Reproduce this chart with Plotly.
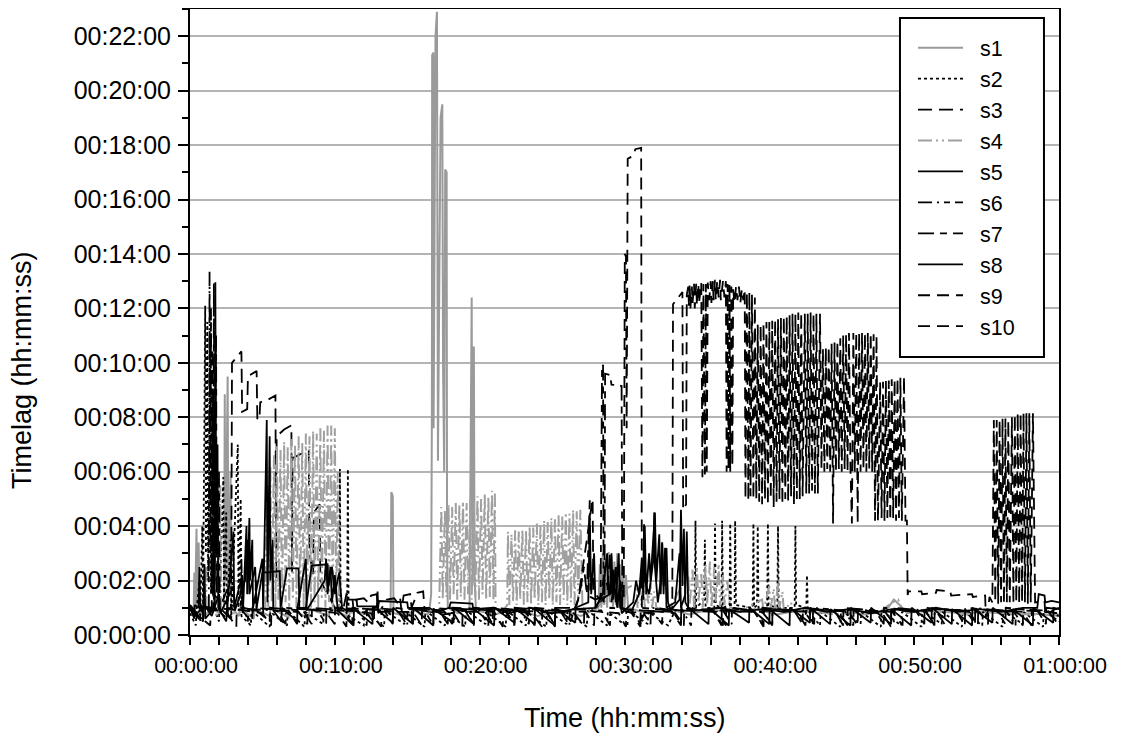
import plotly.graph_objects as go

# ---- tick labels ----
x_tick_vals = [0, 10, 20, 30, 40, 50, 60]
x_tick_labels = ["00:00:00", "00:10:00", "00:20:00", "00:30:00", "00:40:00", "00:50:00", "01:00:00"]
y_tick_vals = [0, 2, 4, 6, 8, 10, 12, 14, 16, 18, 20, 22]
y_tick_labels = ["00:00:00", "00:02:00", "00:04:00", "00:06:00", "00:08:00", "00:10:00",
                 "00:12:00", "00:14:00", "00:16:00", "00:18:00", "00:20:00", "00:22:00"]

series_names = ["s1", "s2", "s3", "s4", "s5", "s6", "s7", "s8", "s9", "s10"]

# ---- series: (time in minutes, timelag in minutes) ----
s1 = [(0.0,1.0),(0.25,0.8),(0.3,2.3),(0.35,0.9),(0.45,3.9),(0.5,1.0),(0.6,3.4),(0.65,0.8),(1.0,0.7),(1.5,1.0),
      (2.0,0.8),(2.35,1.0),(2.4,8.85),(2.45,2.0),(2.6,9.5),(2.65,1.5),(2.8,6.0),(2.85,1.0),(3.4,0.7),(3.45,1.0),
      (4.4,0.6),(4.45,0.95),(5.5,0.7),(5.55,1.0),(6.8,0.65),(6.85,1.0),(8.2,0.6),(8.25,0.95),(9.6,0.7),(9.65,1.0),
      (11.0,0.65),(11.05,0.95),(12.5,0.7),(12.55,0.95),(13.85,0.8),(13.9,5.25),(14.0,5.1),(14.05,0.8),(15.0,0.7),
      (15.5,0.9),(16.4,0.75),(16.55,1.0),(16.65,1.5),(16.7,8.0),(16.72,21.3),(16.8,21.4),(16.82,7.6),(16.9,14.0),
      (16.95,22.0),(17.05,22.9),(17.08,13.0),(17.12,6.4),(17.3,19.0),(17.42,19.5),(17.47,10.0),(17.55,6.0),
      (17.62,17.1),(17.72,17.0),(17.75,3.0),(17.8,1.0),(18.5,0.8),(19.3,1.0),
      (19.45,12.4),(19.5,1.8),(19.6,10.6),(19.65,2.0),(19.75,0.9),(21.0,0.75),(22.5,0.95),(24.0,0.7),(25.5,0.9),
      (27.0,0.7),(28.2,1.0),(28.3,2.6),(28.4,1.0),(28.5,3.0),(28.6,1.1),(28.7,2.8),(28.8,1.0),(28.9,3.05),(29.0,1.2),
      (29.1,2.9),(29.2,1.0),(29.3,2.7),(29.4,1.1),(29.5,3.0),(29.6,1.0),(29.7,2.6),(29.8,1.2),(29.9,2.4),(30.0,1.0),
      (30.1,2.2),(30.25,1.0),(31.5,0.8),(33.0,0.95),(34.5,0.75),(36.0,0.95),(37.5,0.8),(39.0,0.95),(40.5,0.75),
      (42.0,0.9),(43.5,0.8),(45.0,0.9),(46.5,0.75),(48.0,0.85),(48.6,1.3),(49.0,1.1),(49.5,0.8),(50.5,0.9),
      (52.0,0.85),(53.5,0.8),(55.0,0.85),(56.5,0.75),(58.0,0.8),(60.0,0.7)]

s2 = [(0.0,0.8),(0.4,0.35),(0.45,0.9),(0.65,2.0),(0.7,0.6),(0.85,4.0),(0.9,1.0),(1.05,12.1),(1.1,3.0),(1.2,11.5),
      (1.25,2.0),(1.4,10.8),(1.45,1.5),(1.6,9.0),(1.65,1.0),(2.0,0.5),(2.3,5.8),(2.35,1.2),(2.5,4.5),(2.55,0.8),
      (2.8,3.5),(2.85,0.6),(3.3,7.0),(3.35,1.0),(3.5,5.0),(3.55,0.7),(4.2,0.35),(4.25,0.9),(5.5,0.3),(5.55,0.85),
      (6.7,0.35),(6.75,0.9),(7.9,0.3),(7.95,0.85),(9.2,0.4),(9.25,0.9),(10.3,0.9),(10.35,6.1),(10.4,1.0),(10.85,0.8),
      (10.9,6.1),(10.95,0.7),(12.0,0.35),(12.05,0.85),(13.4,0.3),(13.45,0.9),(14.8,0.4),(14.85,0.85),(16.2,0.3),
      (16.25,0.9),(17.6,0.35),(17.65,0.85),(19.0,0.3),(19.05,0.9),(20.4,0.4),(20.45,0.85),(21.8,0.3),(21.85,0.9),
      (23.2,0.35),(23.25,0.85),(24.6,0.3),(24.65,0.9),(26.0,0.4),(26.05,0.85),(27.4,0.3),(27.45,0.9),(28.8,0.35),
      (28.85,0.85),(30.2,0.3),(30.25,0.9),(31.6,0.4),(31.65,0.85),(33.0,0.35),(33.5,0.9),(34.85,1.0),(34.9,4.2),
      (34.95,1.0),(35.5,1.3),(35.55,3.5),(35.6,1.0),(36.2,1.0),(36.25,4.1),(36.3,1.1),(36.7,1.0),(36.74,4.2),
      (36.8,1.0),(37.25,1.1),(37.3,4.1),(37.35,1.0),(37.6,1.0),(37.64,4.2),(37.7,1.1),(38.85,1.0),(38.9,4.1),
      (38.95,1.0),(39.15,1.1),(39.2,4.0),(39.25,1.0),(39.85,1.0),(39.9,4.1),(39.95,1.1),(40.55,1.0),(40.6,4.0),
      (40.65,1.0),(41.75,1.0),(41.8,4.0),(41.85,1.1),(42.55,1.0),(42.6,2.2),(42.65,0.9),(43.5,0.35),(43.55,0.85),
      (44.9,0.3),(44.95,0.9),(46.3,0.4),(46.35,0.85),(47.7,0.3),(47.75,0.9),(49.1,0.35),(49.15,0.85),(50.5,0.3),
      (50.55,0.9),(51.9,0.4),(51.95,0.85),(53.3,0.3),(53.35,0.9),(54.7,0.35),(54.75,0.85),(56.1,0.3),(56.15,0.9),
      (57.5,0.4),(57.55,0.85),(58.9,0.3),(58.95,0.9),(60.0,0.5)]

s3 = [(0.0,1.05),(0.7,0.45),(0.72,1.0),(1.5,0.9),(1.55,9.0),(1.6,1.5),(2.2,1.2),(2.85,2.0),(2.9,10.0),(3.2,10.2),
      (3.55,10.42),(3.6,8.2),(3.95,8.3),(4.0,9.5),(4.6,9.7),(4.65,7.9),(4.8,8.0),(4.85,8.55),(5.4,8.65),(5.9,8.8),
      (5.95,2.1),(5.98,7.3),(6.5,7.55),(7.0,7.7),(7.05,2.3),(7.08,6.5),(7.7,6.65),(8.2,6.8),(8.25,3.0),(8.5,2.2),
      (8.55,4.5),(8.95,4.8),(9.0,2.0),(9.5,1.5),(10.0,1.0),(10.6,1.0),(10.8,1.5),(11.2,1.4),(11.3,0.9),(11.5,1.3),
      (12.0,1.35),(12.3,1.2),(12.5,1.45),(12.9,1.5),(13.0,0.8),(13.6,1.3),(14.1,1.35),(14.3,1.2),(14.5,1.4),
      (14.6,0.9),(14.75,1.45),(15.2,1.5),(15.3,1.0),(15.7,1.55),(16.1,1.6),(16.2,0.9),(17.5,0.75),(19.0,0.9),
      (19.6,0.35),(19.62,0.95),(21.8,0.85),(22.4,0.35),(22.42,0.9),(24.6,0.85),(25.2,0.3),(25.22,0.9),(27.3,0.85),
      (27.9,0.35),(27.92,0.9),(28.8,1.5),(29.0,3.0),(29.1,1.2),(29.4,2.5),(29.5,1.0),(30.5,0.8),(31.1,0.3),
      (31.12,0.9),(33.3,0.85),(33.9,0.35),(33.92,0.9),(36.2,0.85),(36.8,0.35),(36.82,0.9),(39.0,0.85),(39.6,0.3),
      (39.62,0.9),(41.9,0.85),(42.5,0.35),(42.52,0.9),(44.8,0.85),(45.4,0.35),(45.42,0.9),(47.8,0.8),(48.4,0.3),
      (48.42,0.9),(50.8,0.85),(51.4,0.4),(51.42,0.95),(53.8,0.85),(54.4,0.35),(54.42,0.9),(56.9,0.85),(57.5,0.35),
      (57.52,0.9),(59.5,0.85),(60.0,0.7)]

s4 = [(0.0,0.9),(1.0,0.8),(1.1,2.5),(1.15,0.9),(2.0,0.7),(2.1,5.5),(2.15,1.0),(3.0,0.8),(4.0,0.9),(5.2,0.8),
      (5.3,5.5),(5.4,1.0),(5.55,6.2),(5.65,1.2),(5.8,6.6),(5.9,1.0),(6.0,7.0),(6.1,1.3),(6.25,6.8),(6.35,1.0),
      (6.5,7.1),(6.6,1.2),(6.75,6.9),(6.85,1.0),(7.0,7.2),(7.1,1.3),(7.25,7.0),(7.35,1.0),(7.5,7.3),(7.6,1.2),
      (7.75,7.1),(7.85,1.0),(8.0,7.4),(8.1,1.3),(8.25,7.3),(8.35,1.0),(8.5,7.5),(8.6,1.2),(8.75,7.4),(8.85,1.0),
      (9.0,7.6),(9.1,1.3),(9.25,7.5),(9.35,1.0),(9.5,7.7),(9.6,1.2),(9.75,7.7),(9.85,1.0),(10.0,7.6),(10.1,1.2),
      (10.2,6.0),(10.3,0.9),(11.5,0.8),(13.0,0.95),(14.5,0.75),(16.0,0.9),(17.2,0.9),
      (17.35,4.7),(17.45,1.3),(17.6,4.6),(17.7,1.4),(17.85,4.8),(17.95,1.3),(18.1,4.7),(18.2,1.5),(18.35,4.85),
      (18.45,1.3),(18.6,4.8),(18.7,1.4),(18.85,4.9),(18.95,1.3),(19.1,4.85),(19.2,1.5),(19.35,5.0),(19.45,1.3),
      (19.6,4.9),(19.7,1.4),(19.85,5.1),(19.95,1.3),(20.1,5.0),(20.2,1.5),(20.35,5.2),(20.45,1.3),(20.6,5.1),
      (20.7,1.4),(20.85,5.3),(20.95,1.3),(21.05,5.2),(21.1,1.0),(21.5,0.8),(21.9,1.1),
      (21.95,3.8),(22.05,1.1),(22.2,3.7),(22.3,1.2),(22.45,3.85),(22.55,1.1),(22.7,3.8),(22.8,1.3),(22.95,3.9),
      (23.05,1.1),(23.2,3.85),(23.3,1.2),(23.45,4.0),(23.55,1.1),(23.7,3.95),(23.8,1.3),(23.95,4.1),(24.05,1.1),
      (24.2,4.05),(24.3,1.2),(24.45,4.2),(24.55,1.1),(24.7,4.15),(24.8,1.3),(24.95,4.3),(25.05,1.1),(25.2,4.25),
      (25.3,1.2),(25.45,4.4),(25.55,1.1),(25.7,4.35),(25.8,1.3),(25.95,4.5),(26.05,1.1),(26.2,4.45),(26.3,1.2),
      (26.45,4.6),(26.55,1.1),(26.7,4.55),(26.8,1.2),(26.95,4.6),(27.1,1.0),(27.5,0.9),
      (30.8,1.9),(30.9,1.0),(31.05,1.8),(31.15,1.1),(31.3,1.9),(31.4,1.0),(31.55,1.7),(31.65,1.1),(31.8,1.9),
      (31.9,1.0),(32.05,1.6),(32.2,1.0),(33.0,0.9),
      (34.4,2.2),(34.5,1.1),(34.7,2.4),(34.8,1.0),(35.0,2.5),(35.1,1.2),(35.3,2.3),(35.4,1.0),(35.6,2.6),(35.7,1.1),
      (35.9,2.7),(36.0,1.0),(36.2,2.5),(36.3,1.2),(36.5,2.6),(36.6,1.0),(36.8,2.2),(36.9,1.1),(37.1,2.0),(37.3,1.0),
      (38.0,0.9),(39.5,1.3),(39.6,0.9),(40.0,1.8),(40.1,1.0),(40.3,1.7),(40.4,0.9),(40.6,1.9),(40.7,1.0),(40.9,1.6),
      (41.0,0.9),(41.5,1.2),(41.6,0.85),(43.0,0.9),(44.5,0.75),(46.0,0.9),(47.5,0.8),(48.5,1.2),(48.9,1.3),
      (49.2,0.9),(50.5,0.85),(52.0,0.9),(53.5,0.75),(55.0,0.85),(56.5,0.8),(58.0,0.75),(60.0,0.75)]

s5 = [(0.0,1.0),(0.3,0.6),(0.32,1.1),(0.6,1.0),(0.65,2.5),(0.7,1.2),(0.9,0.8),(1.0,2.6),(1.05,0.6),(1.7,1.0),
      (1.75,12.96),(1.8,3.0),(1.9,7.0),(1.95,1.0),(2.5,0.5),(3.0,3.8),(3.05,1.0),(3.6,2.2),(3.65,0.8),(3.9,4.0),
      (3.95,1.5),(4.1,4.3),(4.15,2.0),(4.3,3.5),(4.35,1.0),(5.0,2.8),(5.05,0.8),(5.3,7.9),(5.35,1.2),(5.5,7.3),
      (5.55,2.0),(5.7,3.5),(5.75,0.9),(6.3,0.5),(6.35,1.0),(7.4,0.5),(7.42,1.0),(8.0,2.8),(8.05,0.9),(9.3,2.0),
      (9.4,2.8),(9.5,1.5),(9.7,2.5),(9.8,1.2),(10.0,2.2),(10.2,0.9),(11.3,0.35),(11.32,0.95),(12.6,0.4),(12.62,1.0),
      (12.9,1.0),(12.95,1.6),(13.0,0.9),(14.0,0.45),(14.02,1.0),(15.4,0.4),(15.42,1.0),(16.8,0.35),(16.82,0.95),
      (18.2,0.45),(18.22,1.0),(19.6,0.4),(19.62,0.95),(21.0,0.35),(21.02,1.0),(22.4,0.45),(22.42,1.0),(23.8,0.4),
      (23.82,0.95),(25.2,0.35),(25.22,1.0),(26.6,0.45),(26.62,1.0),(27.5,1.2),(27.6,4.3),(27.7,1.5),(27.9,3.0),
      (28.0,1.0),(28.3,1.3),(29.0,1.5),(29.1,3.0),(29.2,1.3),(29.4,2.5),(29.5,1.0),(29.7,2.0),(29.8,0.8),(30.6,1.2),
      (30.8,2.0),(31.0,1.5),(31.2,2.8),(31.3,1.3),(31.4,4.0),(31.5,1.5),(31.7,3.0),(31.8,2.0),(32.0,3.5),(32.1,4.5),
      (32.2,2.0),(32.4,3.7),(32.5,1.5),(32.6,3.4),(32.7,1.8),(32.9,3.2),(33.0,1.2),(33.2,0.9),(33.8,1.3),(33.9,4.6),
      (34.0,1.8),(34.1,3.9),(34.2,1.2),(34.4,1.0),(35.8,0.4),(35.82,1.0),(37.2,0.35),(37.22,0.95),(38.6,0.45),
      (38.62,1.0),(40.0,0.4),(40.02,0.95),(41.4,0.35),(41.42,1.0),(42.8,0.45),(42.82,1.0),(44.2,0.4),(44.22,0.95),
      (45.6,0.35),(45.62,1.0),(47.0,0.45),(47.02,1.0),(48.4,0.4),(48.42,0.95),(49.8,0.35),(49.82,1.0),(51.2,0.45),
      (51.22,1.0),(52.6,0.4),(52.62,0.95),(54.0,0.35),(54.02,1.0),(55.4,0.45),(55.42,1.0),(56.8,0.4),(56.82,0.95),
      (58.2,0.35),(58.22,1.0),(59.6,0.45),(59.62,1.0),(60.0,0.95)]

s6 = [(0.0,0.95),(0.8,0.5),(0.82,1.0),(1.3,1.0),(1.35,13.35),(1.4,3.0),(1.45,12.0),(1.5,2.0),(1.55,10.5),(1.6,1.5),
      (1.65,8.0),(1.7,1.0),(2.6,0.6),(2.62,1.0),(3.5,0.9),(3.55,2.8),(3.6,1.2),(4.0,0.5),(4.02,0.95),(6.0,0.9),
      (6.6,0.4),(6.62,1.0),(8.8,0.9),(9.4,0.4),(9.42,1.0),(11.6,0.9),(12.2,0.35),(12.22,0.95),(14.4,0.85),(15.0,0.35),
      (15.02,1.0),(17.2,0.9),(17.8,0.4),(17.82,1.0),(20.0,0.9),(20.6,0.35),(20.62,0.95),(22.8,0.9),(23.4,0.4),
      (23.42,1.0),(25.6,0.85),(26.2,0.35),(26.22,0.95),(28.4,0.9),(29.0,0.35),(29.02,1.0),(31.2,0.9),(31.8,0.4),
      (31.82,1.0),(34.0,0.9),(34.6,0.35),(34.62,0.95),(36.8,0.9),(37.4,0.4),(37.42,1.0),(39.6,0.85),(40.2,0.35),
      (40.22,0.95),(42.4,0.9),(43.0,0.4),(43.02,1.0),(45.2,0.9),(45.8,0.35),(45.82,0.95),(48.0,0.85),(48.6,0.4),
      (48.62,1.0),(50.8,0.9),(51.4,0.35),(51.42,0.95),(53.6,0.9),(54.2,0.4),(54.22,1.0),(56.4,0.85),(57.0,0.35),
      (57.02,0.95),(59.2,0.9),(59.8,0.5),(60.0,0.9)]

s7 = [(0.0,1.1),(0.9,0.5),(0.92,1.05),(1.6,1.0),(1.65,12.95),(1.7,2.0),(1.8,11.0),(1.85,1.5),(2.0,6.0),(2.05,1.0),
      (2.8,0.6),(2.82,1.1),(4.5,0.9),(4.55,2.0),(4.6,0.9),(5.5,0.5),(5.52,1.0),(7.8,0.9),(8.4,0.4),(8.42,1.0),
      (10.6,0.9),(11.2,0.4),(11.22,1.0),(13.4,0.9),(14.0,0.4),(14.02,1.0),(16.2,0.9),(16.8,0.35),(16.82,1.0),
      (19.0,0.9),(19.6,0.4),(19.62,1.0),(21.8,0.9),(22.4,0.4),(22.42,1.0),(24.6,0.9),(25.2,0.35),(25.22,1.0),
      (26.5,1.0),(26.7,1.1),(27.0,1.8),(27.2,2.5),(27.4,1.5),(27.6,4.95),(27.65,1.4),(28.0,1.3),(28.35,1.4),
      (28.45,9.94),(28.52,9.9),(28.56,1.2),(28.62,1.3),(28.66,9.6),(29.0,9.55),(29.1,9.2),(29.8,9.15),(29.85,1.0),
      (30.5,0.9),(31.1,0.4),(31.12,1.0),(33.3,0.9),(33.9,0.4),(33.92,1.0),(36.1,0.9),(36.7,0.35),(36.72,1.0),
      (38.9,0.9),(39.5,0.4),(39.52,1.0),(41.7,0.9),(42.3,0.4),(42.32,1.0),(44.5,0.9),(45.1,0.35),(45.12,1.0),
      (47.3,0.9),(47.9,0.4),(47.92,1.0),(50.1,0.9),(50.7,0.4),(50.72,1.0),(52.9,0.9),(53.5,0.35),(53.52,1.0),
      (55.7,0.9),(56.3,0.4),(56.32,1.0),(58.5,0.9),(59.1,0.4),(59.12,1.0),(60.0,0.95)]

s8 = [(0.0,1.0),(0.5,0.8),(1.0,1.1),(1.5,0.7),(2.0,1.5),(2.1,0.8),(3.0,1.8),(3.1,0.9),(3.8,2.0),(4.0,3.5),(4.1,1.5),
      (4.5,2.5),(4.6,1.0),(5.0,2.3),(5.4,2.3),(6.2,2.35),(6.25,1.0),(6.7,2.45),(7.5,2.45),(7.55,1.0),(8.0,1.0),
      (8.4,2.55),(9.5,2.6),(9.55,1.8),(9.8,2.5),(10.0,1.5),(10.3,2.3),(10.5,1.0),(10.8,0.9),(10.85,1.3),(11.5,1.3),
      (11.55,1.05),(13.0,1.05),(13.05,1.25),(15.0,1.2),(15.05,1.0),(16.5,1.0),(17.0,0.85),(17.9,1.0),(18.0,1.2),
      (19.5,1.15),(19.55,0.95),(21.0,1.0),(22.0,0.8),(23.5,1.0),(25.0,0.8),(26.5,0.95),(28.0,1.0),(28.5,1.5),
      (28.8,3.0),(28.9,1.5),(29.2,2.4),(29.4,1.2),(29.6,3.0),(29.7,1.0),(30.5,0.9),(31.0,1.5),(31.3,2.5),(31.35,4.07),
      (31.4,2.0),(31.7,1.5),(32.0,2.8),(32.05,4.5),(32.1,2.5),(32.3,1.2),(32.5,2.0),(32.6,3.4),(32.7,1.5),(32.8,3.2),
      (32.9,1.0),(33.5,1.2),(33.7,2.5),(33.8,3.0),(33.9,1.0),(34.2,1.5),(34.3,3.8),(34.4,1.0),(35.0,0.9),(36.5,1.0),
      (38.0,0.85),(39.5,0.95),(41.0,0.85),(42.5,1.0),(44.0,0.85),(45.5,0.95),(47.0,0.8),(48.5,0.95),(50.0,0.85),
      (51.5,1.0),(53.0,0.85),(54.5,0.95),(56.0,0.85),(57.5,1.0),(58.5,1.0),(58.6,1.5),(59.0,1.45),(59.05,1.2),
      (59.5,1.25),(60.0,1.2)]

s9 = [(0.0,0.95),(1.4,0.35),(1.42,1.0),(3.6,0.9),(4.3,0.45),(4.32,1.0),(6.8,0.9),(7.4,0.4),(7.42,1.0),(9.3,0.9),
      (10.0,0.4),(10.02,1.0),(12.0,0.95),(12.7,0.45),(12.72,1.0),(14.6,0.9),(15.3,0.4),(15.32,1.0),(17.5,0.9),
      (18.1,0.4),(18.12,1.0),(20.3,0.95),(20.9,0.4),(20.92,1.0),(23.1,0.9),(23.8,0.35),(23.82,1.0),(25.6,0.9),
      (26.3,0.5),(26.5,0.9),(26.8,1.3),(27.0,2.0),(27.2,2.8),(27.4,3.5),(27.6,4.3),(27.8,5.0),(27.85,1.6),(28.3,1.3),
      (28.6,2.2),(29.0,1.5),(29.5,2.5),(29.9,1.3),(29.95,1.3),(30.02,14.0),(30.1,13.9),(30.15,7.6),(30.22,17.5),
      (30.4,17.55),(30.6,17.6),(30.75,17.85),(31.15,17.9),(31.2,0.6),(31.5,0.9),(33.5,0.8),(34.1,0.35),(34.12,0.95),
      (36.4,0.85),(37.0,0.35),(37.02,0.9),(39.5,0.85),(40.2,0.4),(40.22,0.95),(42.5,0.85),(43.1,0.4),(43.12,0.95),
      (45.5,0.85),(46.1,0.35),(46.12,0.9),(48.5,0.85),(49.2,0.35),(49.22,0.9),(51.5,0.9),(52.1,0.4),(52.12,0.95),
      (54.5,0.85),(55.1,0.4),(55.12,0.95),(57.5,0.85),(58.1,0.35),(58.12,0.9),(60.0,0.8)]

s10 = [(0.0,1.1),(0.9,0.5),(0.92,1.0),(2.5,0.85),(3.2,0.3),(3.22,0.95),(5.0,0.8),(5.6,0.35),(5.62,0.9),(7.5,0.85),
       (8.1,0.4),(8.12,0.95),(10.2,0.8),(10.8,0.3),(10.82,0.9),(12.5,0.8),(13.2,0.3),(13.22,0.85),(15.4,0.85),
       (16.0,0.35),(16.02,0.9),(18.2,0.8),(18.8,0.3),(18.82,0.85),(21.0,0.85),(21.6,0.3),(21.62,0.9),(23.6,0.8),
       (24.3,0.3),(24.32,0.85),(26.5,0.8),(27.2,0.35),(27.22,0.9),(29.6,0.8),(30.1,0.3),(30.12,0.85),(32.0,0.8),
       (32.6,0.4),(32.62,0.9),(33.3,1.0),
       (33.35,12.15),(33.9,12.5),(34.0,12.6),(34.05,4.6),(34.25,4.8),(34.3,12.5),
       (34.4,12.8),(34.45,12.1),(34.5,12.9),(34.55,12.0),(34.65,12.8),(34.7,12.2),(34.8,12.9),(34.85,12.0),
       (34.95,12.9),(35.0,12.1),(35.1,12.9),(35.15,12.2),(35.3,12.95),
       (35.38,5.8),(35.45,12.9),(35.55,5.9),(35.62,12.9),(35.68,6.0),(35.75,12.95),
       (35.85,12.3),(35.95,13.0),(36.0,12.2),(36.1,13.0),(36.15,12.3),(36.25,13.05),(36.3,12.3),(36.4,13.0),
       (36.5,12.4),(36.6,13.05),(36.65,12.3),(36.8,13.0),(36.9,12.4),(37.0,13.0),
       (37.05,6.0),(37.12,12.9),(37.18,6.1),(37.25,12.9),(37.3,6.0),(37.38,12.8),(37.45,6.2),(37.5,12.7),
       (37.6,12.2),(37.7,12.8),(37.8,12.3),(37.9,12.8),(38.0,12.2),(38.1,12.7),(38.2,12.3),(38.3,12.7),
       (38.35,5.0),(38.45,12.6),(38.55,4.95),(38.62,12.6),(38.7,5.1),(38.8,12.5),(38.9,5.0),(39.0,12.4),(39.1,5.0),
       (39.2,11.4),(39.3,4.9),(39.4,11.4),(39.5,4.8),(39.6,11.45),(39.7,5.0),(39.8,11.5),(39.9,4.8),(40.0,11.5),
       (40.1,5.0),(40.2,11.55),(40.3,4.7),(40.4,11.6),(40.5,4.9),(40.6,11.6),(40.7,5.0),(40.8,11.65),(40.9,4.8),
       (41.0,11.7),(41.1,5.0),(41.2,11.7),(41.3,4.9),(41.4,11.75),(41.5,5.1),(41.6,11.8),(41.7,4.8),(41.8,11.8),
       (41.9,5.0),(42.0,11.85),(42.1,5.0),(42.2,11.85),(42.3,5.1),
       (42.45,11.8),(42.55,5.2),(42.65,11.8),(42.75,5.2),(42.85,11.85),(42.95,5.3),(43.05,11.8),(43.15,5.2),
       (43.25,11.8),(43.35,5.2),(43.5,11.8),
       (43.6,6.1),(43.7,10.5),(43.8,6.0),(43.9,10.55),(44.0,6.1),(44.1,10.6),(44.2,6.0),(44.3,10.7),(44.4,4.1),
       (44.5,10.75),(44.6,6.0),(44.7,10.8),(44.8,6.1),(44.9,10.9),
       (45.0,6.0),(45.1,11.0),(45.2,6.1),(45.3,11.05),(45.4,6.0),(45.5,11.1),(45.6,6.1),(45.7,4.1),(45.8,11.1),
       (45.9,6.0),(46.0,11.1),(46.1,4.1),(46.2,11.1),(46.3,6.0),(46.4,11.1),(46.5,6.1),(46.6,11.1),(46.7,6.0),
       (46.8,11.1),(46.9,6.1),(47.0,11.1),(47.1,6.0),(47.2,11.05),(47.3,4.2),(47.4,11.0),(47.5,4.2),
       (47.65,9.3),(47.75,4.3),(47.85,9.3),(47.95,4.2),(48.05,9.35),(48.15,4.3),(48.25,9.35),(48.35,4.2),
       (48.45,9.4),(48.55,4.3),(48.65,9.4),(48.75,4.2),(48.85,9.45),(48.95,4.3),(49.05,9.45),(49.15,4.2),
       (49.3,9.5),(49.4,4.2),(49.5,4.2),(49.55,1.47),(49.6,1.6),(50.5,1.6),(50.55,1.5),(51.5,1.55),(51.55,1.65),
       (52.5,1.6),(52.55,1.45),(54.0,1.5),(54.05,1.4),(54.9,1.45),(54.95,0.66),(55.1,0.9),(55.2,1.4),(55.4,1.2),
       (55.5,7.9),(55.6,1.2),(55.7,7.9),(55.8,1.15),(55.9,7.9),(56.0,1.2),(56.1,7.95),(56.2,1.15),(56.3,7.95),
       (56.4,1.2),(56.5,7.9),(56.6,1.2),(56.75,8.0),(56.85,1.15),(56.95,8.1),(57.05,1.2),(57.15,8.15),(57.25,1.15),
       (57.35,8.15),(57.45,1.2),(57.55,8.15),(57.65,1.2),(57.75,8.15),(57.85,1.15),(57.95,8.15),(58.05,1.2),
       (58.2,8.15),(58.35,1.2),(59.0,1.25),(59.05,0.8),(60.0,1.0)]

all_series = [s1, s2, s3, s4, s5, s6, s7, s8, s9, s10]

styles = [
    dict(color="#9a9a9a", width=2.0, dash="solid"),
    dict(color="#000000", width=1.8, dash="dot"),
    dict(color="#000000", width=1.8, dash="14px,7px"),
    dict(color="#a0a0a0", width=2.0, dash="14px,4px,2px,4px,2px,4px"),
    dict(color="#000000", width=1.8, dash="solid"),
    dict(color="#000000", width=1.8, dash="14px,5px,2px,5px,6px,5px"),
    dict(color="#000000", width=1.8, dash="16px,6px,7px,6px"),
    dict(color="#000000", width=1.8, dash="solid"),
    dict(color="#000000", width=1.8, dash="12px,7px"),
    dict(color="#000000", width=1.8, dash="12px,7px"),
]

FONT = "Liberation Sans, Arial, sans-serif"
NB = "\u00a0"

fig = go.Figure()
for name, data, st in zip(series_names, all_series, styles):
    fig.add_trace(go.Scatter(
        x=[p[0] for p in data], y=[p[1] for p in data],
        mode="lines", name=NB * 2 + name, line=st, hoverinfo="skip",
    ))

# the page body adds an 8px offset, so the figure is 8px smaller and margins compensate
fig.update_layout(
    width=1113, height=730,
    margin=dict(l=182, r=62, t=1, b=103, autoexpand=False),
    paper_bgcolor="white", plot_bgcolor="white",
    font=dict(family=FONT, color="black"),
    showlegend=True,
    legend=dict(
        x=0.832, y=0.971, xanchor="left", yanchor="top",
        bgcolor="rgba(0,0,0,0)", borderwidth=0,
        font=dict(family=FONT, size=21.5, color="black"),
        itemwidth=45, tracegroupgap=0,
    ),
    shapes=[dict(type="rect", xref="paper", yref="paper", x0=0.817, x1=0.9827, y0=0.4441, y1=0.9856,
                 line=dict(color="black", width=2), fillcolor="white", layer="above")],
    xaxis=dict(
        range=[0, 60], showgrid=False, zeroline=False, automargin=False,
        showline=True, linecolor="black", linewidth=2, mirror=True,
        tickmode="array", tickvals=x_tick_vals, ticktext=x_tick_labels,
        ticks="outside", ticklen=8, tickwidth=1.5, tickcolor="black",
        tickfont=dict(family=FONT, size=21.5),
        ticklabelstandoff=2, ticklabelshift=6,
        minor=dict(tickmode="linear", tick0=0, dtick=2, ticks="outside", ticklen=8,
                   tickwidth=1.5, tickcolor="black", showgrid=False),
    ),
    yaxis=dict(
        range=[0, 23], zeroline=False, automargin=False,
        showgrid=True, gridcolor="#b4b4b4", gridwidth=2,
        showline=True, linecolor="black", linewidth=2, mirror=True,
        tickmode="array", tickvals=y_tick_vals, ticktext=y_tick_labels,
        ticks="outside", ticklen=10, tickwidth=1.5, tickcolor="black",
        tickfont=dict(family=FONT, size=25),
        ticklabelstandoff=2,
        minor=dict(tickmode="linear", tick0=0, dtick=1, ticks="outside", ticklen=6,
                   tickwidth=1.5, tickcolor="black", showgrid=False),
    ),
    annotations=[
        dict(text="Time (hh:mm:ss)", xref="paper", yref="paper", x=0.5, y=0,
             yshift=-83, xanchor="center", yanchor="middle", showarrow=False,
             font=dict(family=FONT, size=27)),
        dict(text="Timelag (hh:mm:ss)", xref="paper", yref="paper", x=0, y=0.5,
             xshift=-168, yshift=-48, xanchor="center", yanchor="middle", textangle=-90,
             showarrow=False, font=dict(family=FONT, size=27)),
    ],
)

fig.write_html("out.html")
